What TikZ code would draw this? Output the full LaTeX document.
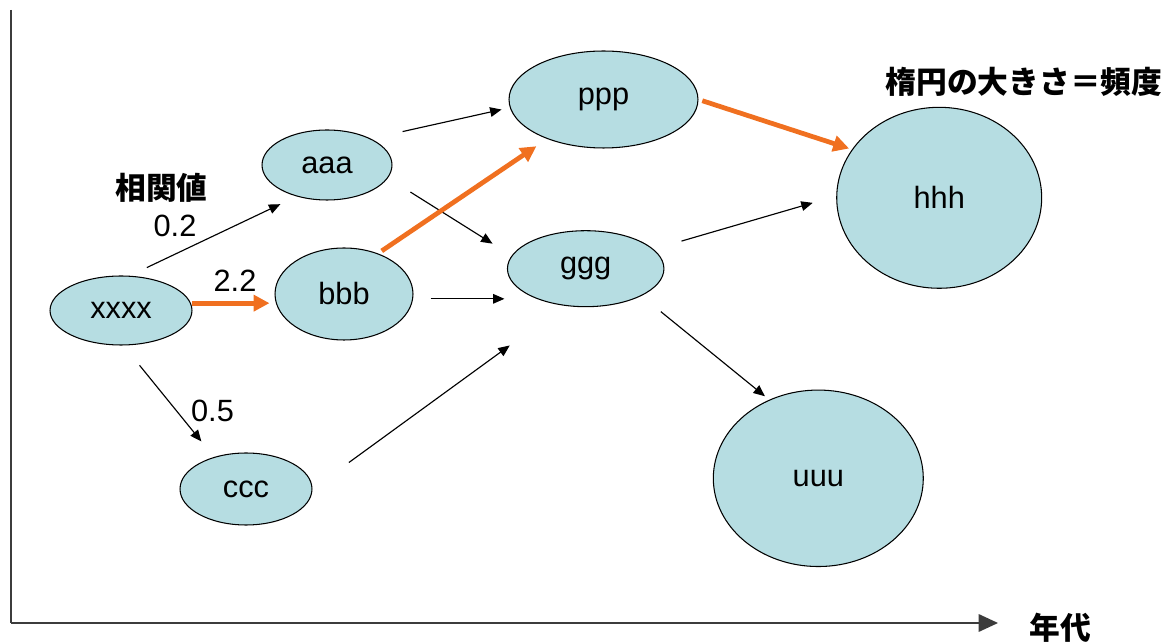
\documentclass[tikz,border=0pt]{standalone}
\usepackage{fontspec}
\setmainfont{Liberation Sans}
\newfontfamily\jpfont{Noto Sans CJK JP}
\usetikzlibrary{shapes.geometric,arrows.meta}
\definecolor{bubble}{RGB}{182,221,226}
\definecolor{hotline}{RGB}{240,112,32}
\definecolor{axisgray}{RGB}{60,60,60}

\begin{document}
\begin{tikzpicture}[
		x=0.02cm, y=-0.02cm,
		blob/.style={draw, ellipse, fill=bubble, line width=0.6pt, inner sep=0pt, font=\fontsize{17.5}{20}\selectfont},
		link/.style={-{Triangle[length=6.5pt,width=5.5pt]}, line width=0.65pt},
		hot/.style={-{Triangle[length=9pt,width=9pt]}, hotline, line width=2.7pt},
		num/.style={font=\fontsize{17.5}{20}\selectfont, inner sep=0pt},
		jp/.style={font=\jpfont\bfseries\fontsize{17.5}{20}\selectfont, inner sep=0pt}
	]
	\useasboundingbox (0,0) rectangle (1173,644);

	% Axes
	\coordinate (top) at (11,10);
	\coordinate (origin) at (11,623);
	\coordinate (tip) at (998,623);
	\draw[axisgray, line width=0.9pt] (top) -- (origin);
	\draw[axisgray, line width=0.9pt, -{Triangle[length=11pt,width=10pt]}] (origin) -- (tip);

	% Nodes
	\node[blob, minimum width=2.84cm, minimum height=1.38cm] (xxxx) at (121,310.5) {xxxx};
	\node[blob, minimum width=2.6cm, minimum height=1.4cm] (aaa) at (327,165) {aaa};
	\node[blob, minimum width=2.76cm, minimum height=1.84cm] (bbb) at (344,294) {bbb};
	\node[blob, minimum width=2.64cm, minimum height=1.44cm] (ccc) at (246,489) {ccc};
	\node[blob, minimum width=3.78cm, minimum height=1.94cm] (ppp) at (603.5,99.5) {ppp};
	\node[blob, minimum width=3.13cm, minimum height=1.52cm] (ggg) at (585.7,268.7) {ggg};
	\node[blob, minimum width=4.1cm, minimum height=3.62cm] (hhh) at (939.2,197.8) {hhh};
	\node[blob, minimum width=4.2cm, minimum height=3.53cm] (uuu) at (818.3,478.3) {uuu};

	% Connections
	\draw[link, shorten <=0.38cm, shorten >=0.36cm] (xxxx.76) -- (aaa.226);
	\draw[hot, shorten <=0.03cm, shorten >=0.1cm] (xxxx.6) -- (xxxx.6 -| bbb.west);
	\draw[link, shorten <=0.51cm, shorten >=0.4cm] (xxxx.274) -- (ccc.135);
	\draw[link, shorten <=0.65cm, shorten >=0.17cm] (aaa.31) -- (ppp.185);
	\draw[link, shorten <=0.53cm, shorten >=0.45cm] (aaa.348) -- (ggg.170);
	\draw[hot, shorten <=0.09cm, shorten >=0.26cm] (bbb.50) -- (ppp.215);
	\draw[link, shorten <=0.35cm, shorten >=0.05cm] (bbb.356) -- (bbb.356 -| ggg.west);
	\draw[link, shorten <=0.9cm, shorten >=1.35cm] (ccc.east) -- (ggg.240);
	\draw[link, shorten <=0.58cm, shorten >=0.49cm] (ggg.16) -- (hhh.179);
	\draw[link, shorten <=0.5cm, shorten >=0.11cm] (ggg.334) -- (uuu.122);
	\draw[hot, shorten <=0.08cm, shorten >=0.06cm] (ppp.east) -- (hhh.151);

	% Labels
	\node[jp] (corr) at (161.5,187.5) {相関値};
	\node[num] (wa) at (175,226) {0.2};
	\node[num] (wb) at (235,281) {2.2};
	\node[num] (wc) at (212.5,411) {0.5};
	\node[jp] (legend) at (1024,81.5) {楕円の大きさ＝頻度};
	\node[jp] (era) at (1060,628) {年代};
\end{tikzpicture}
\end{document}
